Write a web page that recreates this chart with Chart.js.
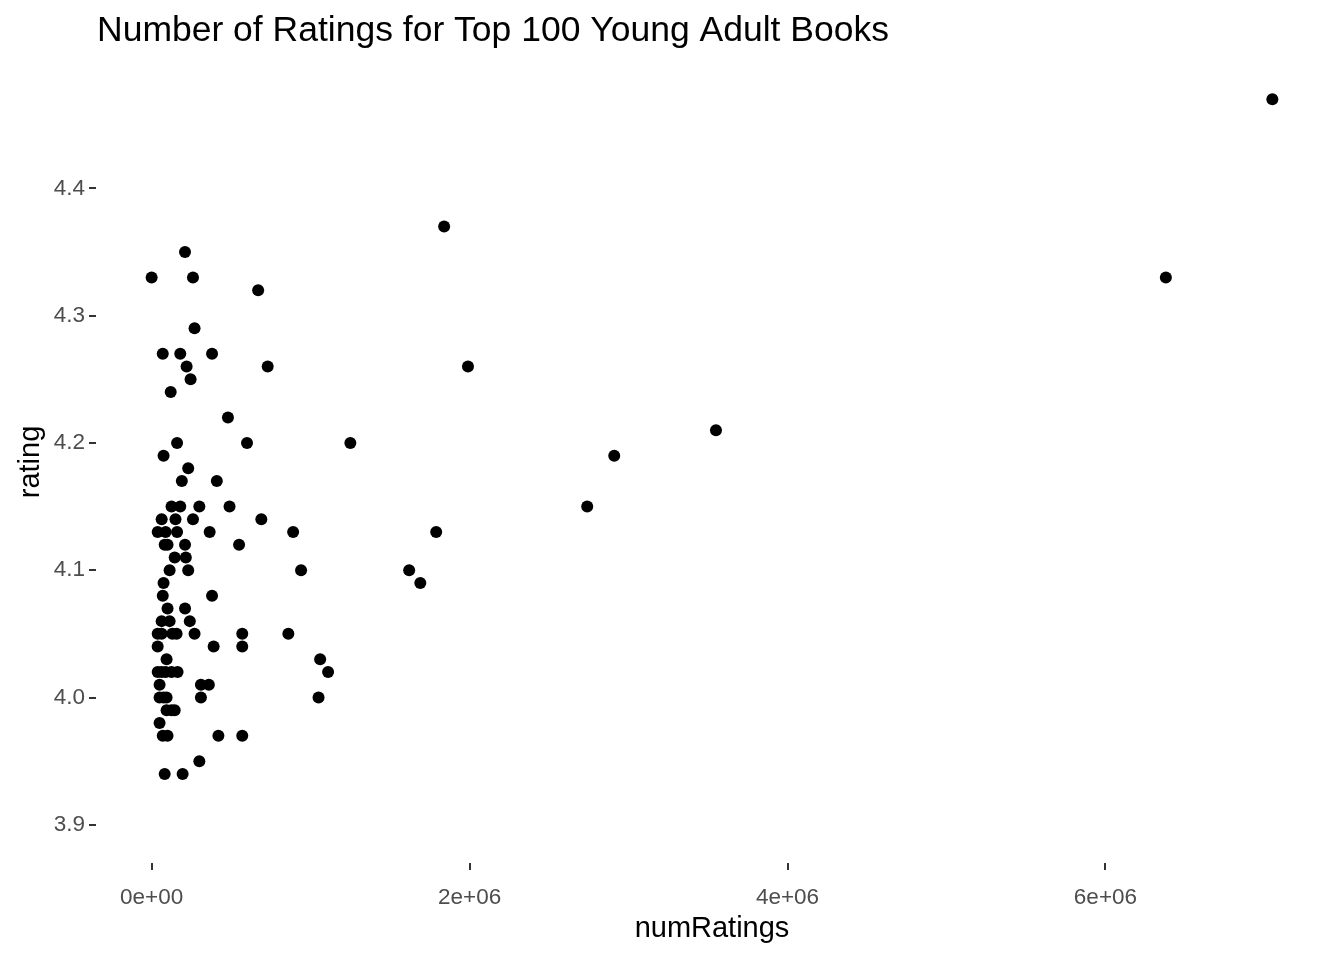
<!DOCTYPE html>
<html><head><meta charset="utf-8">
<script src="https://cdn.jsdelivr.net/npm/chart.js@4/dist/chart.umd.min.js"></script>
<style>body{margin:0;background:#fff}canvas{display:block}</style>
</head><body>
<canvas id="c" width="1344" height="960"></canvas>
<script>
const numRatings = [0,0.21,0.26,0.67,0.27,0.07,0.18,0.38,0.22,0.73,0.245,0.12,0.48,0.16,0.6,1.25,0.075,0.23,0.19,0.41,0.125,0.18,0.3,0.49,0.063,0.15,0.26,0.69,0.038,0.088,0.16,0.365,0.89,0.082,0.1,0.21,0.55,0.145,0.215,0.113,0.23,0.94,0.075,0.07,0.38,0.1,0.21,0.063,0.113,0.24,0.038,0.063,0.13,0.157,0.27,0.57,0.86,0.038,0.39,0.57,0.094,1.06,0.038,0.063,0.088,0.125,0.163,1.11,0.05,0.31,0.36,0.05,0.075,0.094,0.31,1.05,0.094,0.125,0.145,0.05,0.07,0.1,0.42,0.57,0.3,0.082,0.195,1.62,1.69,1.79,1.84,1.99,2.74,2.91,3.55,6.38,7.05].map(v=>v*1e6);
const rating = [4.33,4.35,4.33,4.32,4.29,4.27,4.27,4.27,4.26,4.26,4.25,4.24,4.22,4.20,4.20,4.20,4.19,4.18,4.17,4.17,4.15,4.15,4.15,4.15,4.14,4.14,4.14,4.14,4.13,4.13,4.13,4.13,4.13,4.12,4.12,4.12,4.12,4.11,4.11,4.10,4.10,4.10,4.09,4.08,4.08,4.07,4.07,4.06,4.06,4.06,4.05,4.05,4.05,4.05,4.05,4.05,4.05,4.04,4.04,4.04,4.03,4.03,4.02,4.02,4.02,4.02,4.02,4.02,4.01,4.01,4.01,4.00,4.00,4.00,4.00,4.00,3.99,3.99,3.99,3.98,3.97,3.97,3.97,3.97,3.95,3.94,3.94,4.10,4.09,4.13,4.37,4.26,4.15,4.19,4.21,4.33,4.47];
const xTicks = [0,2e6,4e6,6e6];
const xTickLabels = ["0e+00","2e+06","4e+06","6e+06"];
const yTicks = [3.9,4.0,4.1,4.2,4.3,4.4];
const titleText = "Number of Ratings for Top 100 Young Adult Books";
const F = "'Liberation Sans', Arial, sans-serif";

const titlePlugin = {id:'t', afterDraw(c){const x=c.ctx;x.save();x.font="35.5px "+F;x.fillStyle="#000";x.textBaseline="alphabetic";x.fillText(titleText,97,41);x.restore();}};
new Chart(document.getElementById('c'),{
  type:'scatter',
  data:{datasets:[{data:numRatings.map((v,i)=>({x:v,y:rating[i]})),backgroundColor:'#000',borderWidth:0,pointRadius:6,pointHoverRadius:6}]},
  options:{responsive:false,animation:false,events:[],
    layout:{padding:{top:61,right:16,left:0,bottom:0}},
    plugins:{legend:{display:false},tooltip:{enabled:false}},
    scales:{
      x:{type:'linear',min:-0.35e6,max:7.4e6,
        afterBuildTicks(s){s.ticks=xTicks.map(v=>({value:v}));},
        afterFit(s){s.height=97;},
        ticks:{font:{family:F,size:22.5},color:'#4d4d4d',padding:14,maxRotation:0,callback:(v)=>xTickLabels[xTicks.indexOf(v)]},
        grid:{drawOnChartArea:false,tickLength:7,color:'#333',lineWidth:2},border:{display:false},
        title:{display:true,text:'numRatings',font:{family:F,size:29},color:'#000',padding:{top:0,bottom:14}}},
      y:{type:'linear',min:3.87,max:4.5,
        afterBuildTicks(s){s.ticks=yTicks.map(v=>({value:v}));},
        afterFit(s){s.width=96;},
        ticks:{font:{family:F,size:22.5},color:'#4d4d4d',padding:4,callback:(v)=>v.toFixed(1)},
        grid:{drawOnChartArea:false,tickLength:7,color:'#333',lineWidth:2},border:{display:false},
        title:{display:true,text:'rating',font:{family:F,size:29},color:'#000',padding:{top:14,bottom:0}}}
    }},
  plugins:[titlePlugin]
});
</script>
</body></html>
